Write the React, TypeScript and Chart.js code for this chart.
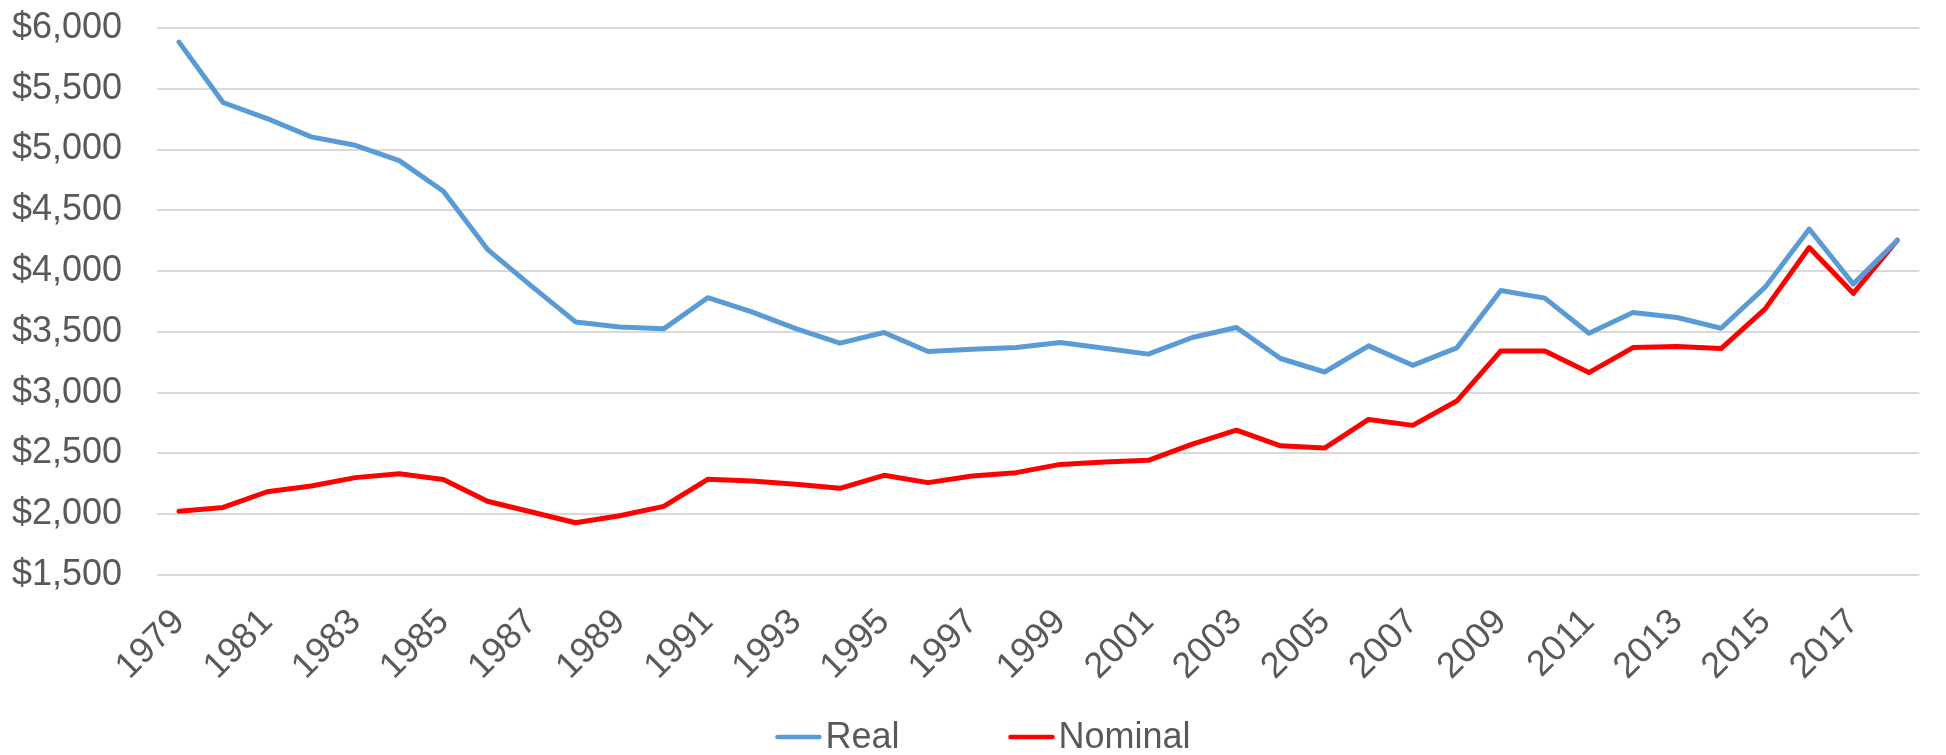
import React, { useEffect, useRef } from "react";
import { Chart, registerables } from "chart.js";

Chart.register(...registerables);

const years: string[] = [
  "1979", "1980", "1981", "1982", "1983", "1984", "1985", "1986", "1987", "1988",
  "1989", "1990", "1991", "1992", "1993", "1994", "1995", "1996", "1997", "1998",
  "1999", "2000", "2001", "2002", "2003", "2004", "2005", "2006", "2007", "2008",
  "2009", "2010", "2011", "2012", "2013", "2014", "2015", "2016", "2017", "2018",
];

const realValues: number[] = [
  5884, 5387, 5255, 5104, 5035, 4909, 4657, 4179, 3877, 3582,
  3541, 3525, 3781, 3664, 3527, 3407, 3495, 3339, 3358, 3372,
  3413, 3366, 3317, 3454, 3536, 3281, 3170, 3385, 3225, 3368,
  3841, 3778, 3489, 3659, 3618, 3530, 3868, 4346, 3893, 4254,
];

const nominalValues: number[] = [
  2025, 2056, 2185, 2232, 2301, 2333, 2286, 2107, 2018, 1930,
  1987, 2065, 2287, 2273, 2246, 2213, 2320, 2260, 2314, 2342,
  2410, 2429, 2443, 2577, 2691, 2563, 2544, 2780, 2731, 2931,
  3343, 3343, 3165, 3371, 3379, 3363, 3689, 4194, 3817, 4254,
];

const seriesNames: string[] = ["Real", "Nominal"];
const seriesColors: string[] = ["#5B9BD5", "#FF0000"];

const yMin = 1500;
const yMax = 6000;
const yStep = 500;

const FONT = "'Liberation Sans', Arial, sans-serif";
const TEXT_COLOR = "#595959";

const legendPlugin = {
  id: "customLegend",
  afterDraw(chart: any) {
    const ctx = chart.ctx as CanvasRenderingContext2D;
    const datasets = chart.data.datasets;
    ctx.save();
    ctx.font = `36px ${FONT}`;
    const lineLen = 46;
    const gapText = 4;
    const gapItem = 109;
    const widths = datasets.map((d: any) => lineLen + gapText + ctx.measureText(d.label).width);
    const total = widths.reduce((a: number, b: number) => a + b, 0) + gapItem * (datasets.length - 1);
    let x = chart.width / 2 - total / 2 + 10;
    const y = 737;
    datasets.forEach((d: any, i: number) => {
      ctx.strokeStyle = d.borderColor;
      ctx.lineWidth = 4.5;
      ctx.lineCap = "round";
      ctx.beginPath();
      ctx.moveTo(x + 2, y);
      ctx.lineTo(x + lineLen - 2, y);
      ctx.stroke();
      ctx.fillStyle = TEXT_COLOR;
      ctx.textAlign = "left";
      ctx.textBaseline = "middle";
      ctx.fillText(d.label, x + lineLen + gapText, y + 1);
      x += widths[i] + gapItem;
    });
    ctx.restore();
  },
};

export default function App() {
  const canvasRef = useRef<HTMLCanvasElement | null>(null);

  useEffect(() => {
    if (!canvasRef.current) return;
    const chart = new Chart(canvasRef.current, {
      type: "line",
      data: {
        labels: years,
        datasets: [
          {
            label: seriesNames[0],
            data: realValues,
            borderColor: seriesColors[0],
            backgroundColor: seriesColors[0],
            borderWidth: 5,
            pointRadius: 0,
            tension: 0,
            borderCapStyle: "round",
            borderJoinStyle: "round",
          },
          {
            label: seriesNames[1],
            data: nominalValues,
            borderColor: seriesColors[1],
            backgroundColor: seriesColors[1],
            borderWidth: 5,
            pointRadius: 0,
            tension: 0,
            borderCapStyle: "round",
            borderJoinStyle: "round",
          },
        ],
      },
      options: {
        animation: false,
        responsive: true,
        maintainAspectRatio: false,
        layout: { padding: { left: 12, right: 9, top: 28, bottom: 0 } },
        plugins: {
          legend: { display: false },
          tooltip: { enabled: false },
        },
        scales: {
          x: {
            offset: true,
            grid: { display: false },
            border: { display: false },
            ticks: {
              autoSkip: false,
              maxRotation: 45,
              minRotation: 45,
              padding: 18,
              color: TEXT_COLOR,
              font: { family: FONT, size: 36 },
              callback: (_v: any, i: number) => (i % 2 === 0 ? years[i] : ""),
            },
            afterFit: (scale: any) => {
              scale.height = 180;
            },
          },
          y: {
            min: yMin,
            max: yMax,
            grid: { color: "#D9D9D9", lineWidth: 2, drawTicks: false },
            border: { display: false },
            ticks: {
              stepSize: yStep,
              padding: 0,
              crossAlign: "far",
              color: TEXT_COLOR,
              font: { family: FONT, size: 36 },
              callback: (v: any) => "$" + Number(v).toLocaleString("en-US"),
            },
            afterFit: (scale: any) => {
              scale.width = 145;
            },
          },
        },
      },
      plugins: [legendPlugin],
    });
    return () => chart.destroy();
  }, []);

  return (
    <div style={{ position: "absolute", left: 0, top: 0, width: 1946, height: 755, background: "#fff" }}>
      <canvas ref={canvasRef} />
    </div>
  );
}
